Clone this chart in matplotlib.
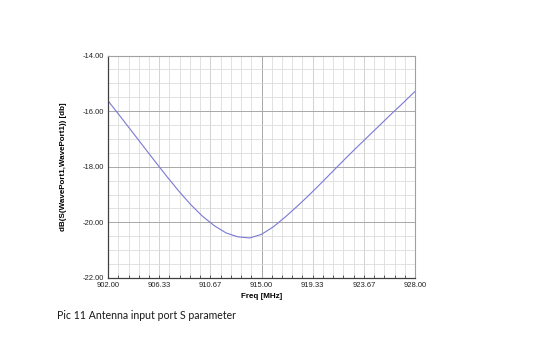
import numpy as np
import matplotlib.pyplot as plt
from matplotlib.ticker import MultipleLocator, FixedLocator

# S11 of the antenna input port
freq = [902, 903, 904, 905, 906, 907, 908, 909, 910, 911, 912, 913, 914,
        915, 916, 917, 918, 919, 920, 921, 922, 923, 924, 925, 926, 927, 928]
s11_db = [-15.63, -16.17, -16.72, -17.27, -17.82, -18.36, -18.88, -19.36,
          -19.78, -20.12, -20.38, -20.52, -20.56, -20.43, -20.16, -19.81,
          -19.43, -19.03, -18.61, -18.18, -17.75, -17.33, -16.92, -16.51,
          -16.1, -15.7, -15.29]
xticks = [902.00, 906.33, 910.67, 915.00, 919.33, 923.67, 928.00]
xticklabels = ["902.00", "906.33", "910.67", "915.00", "919.33", "923.67", "928.00"]
yticks = [-22, -20, -18, -16, -14]

plt.rcParams['font.family'] = ['Liberation Sans', 'DejaVu Sans']

fig = plt.figure(figsize=(5.46, 3.39), dpi=100)
ax = fig.add_axes([0.198, 0.180, 0.562, 0.656])

ax.plot(freq, s11_db, color="#7a78d4", lw=0.8)

ax.set_xlim(902, 928)
ax.set_ylim(-22, -14)
ax.xaxis.set_major_locator(FixedLocator(xticks))
ax.set_xticklabels(xticklabels)
ax.xaxis.set_minor_locator(FixedLocator(np.linspace(902, 928, 31)))
ax.yaxis.set_major_locator(FixedLocator(yticks))
ax.set_yticklabels(["%.2f" % v for v in yticks])
ax.yaxis.set_minor_locator(MultipleLocator(0.5))

ax.grid(which="major", color="#a8a8a8", lw=0.7)
ax.grid(which="minor", color="#dcdcdc", lw=0.6)
ax.set_axisbelow(True)

for s in ["top", "right"]:
    ax.spines[s].set_color("#a0a0a0")
    ax.spines[s].set_linewidth(0.8)
for s in ["left", "bottom"]:
    ax.spines[s].set_color("#404040")
    ax.spines[s].set_linewidth(0.9)

ax.tick_params(which="both", length=0, labelsize=5.5, colors="#222222", pad=3)
ax.tick_params(axis="x", which="minor", length=2, direction="in", color="#404040")

ax.set_xlabel("Freq [MHz]", fontsize=5.8, fontweight="bold", labelpad=3)
ax.set_ylabel("dB(S(WavePort1,WavePort1)) [db]", fontsize=5.8,
              fontweight="bold", labelpad=11)

fig.text(0.104, 0.058, "Pic 11 Antenna input port S parameter",
         fontsize=7.6, family=["Lato", "DejaVu Sans"], color="#1a1a1a")

plt.savefig("out.png", dpi=100)
